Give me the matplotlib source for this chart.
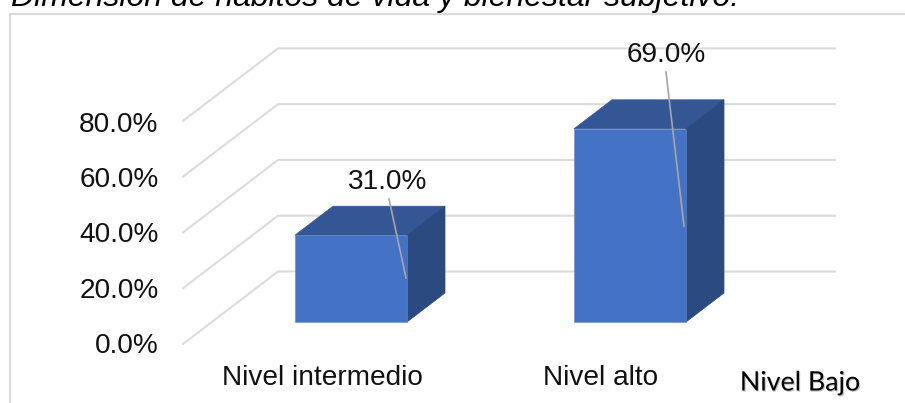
import matplotlib
matplotlib.use('Agg')
import matplotlib.pyplot as plt
import matplotlib.patheffects as pe
from matplotlib.patches import Polygon

categories = ['Nivel intermedio', 'Nivel alto']
values = [31.0, 69.0]
ticks = [0, 20, 40, 60, 80]
tick_labels = ['0.0%', '20.0%', '40.0%', '60.0%', '80.0%']
extra_label = 'Nivel Bajo'
title = 'Dimensión de hábitos de vida y bienestar subjetivo.'

W, H = 905, 403
PX_X = 279.0   # px per category
PX_Y = 2.8     # px per percent
X0, Y0 = 351.0, 322.0  # px of first bar centre / bar base


def sx(px):
    return px / PX_X


def sy(px):
    return px / PX_Y


plt.rcParams['font.family'] = ['Liberation Sans', 'DejaVu Sans']
fig = plt.figure(figsize=(W / 100, H / 100), dpi=100)
ax = fig.add_axes([0, 0, 1, 1])
ax.set_xlim(-X0 / PX_X, (W - X0) / PX_X)
ax.set_ylim(-(H - Y0) / PX_Y, Y0 / PX_Y)
ax.axis('off')

# frame of the chart, runs off the picture right and bottom
ax.plot([sx(9.5 - X0), sx(9.5 - X0), sx(W + 5 - X0)],
        [-(H + 5 - Y0) / PX_Y, sy(Y0 - 14), sy(Y0 - 14)],
        color='#d9d9d9', lw=1.5, zorder=1, solid_capstyle='butt')

# gridlines: front edge, back edge, then along the back wall
front_x, back_x, end_x = sx(183 - X0), sx(278 - X0), sx(835 - X0)
floor_front, floor_back = sy(22), sy(50.5)
for t in ticks:
    ax.plot([front_x, back_x, end_x],
            [t * 0.996 - floor_front, t * 0.996 + floor_back, t * 0.996 + floor_back],
            color='#dcdcdc', lw=1.5, zorder=2, solid_joinstyle='miter')

# 3d bars
half = sx(56)
dx, dy = sx(38), sy(29)
for i, v in enumerate(values):
    l, r = i - half, i + half
    ax.add_patch(Polygon([(l, v), (l + dx, v + dy), (r + dx, v + dy), (r, v)],
                         facecolor='#345695', edgecolor='#345695', lw=0.5, zorder=3))
    ax.add_patch(Polygon([(r, 0), (r + dx, dy), (r + dx, v + dy), (r, v)],
                         facecolor='#2b4a80', edgecolor='#2b4a80', lw=0.5, zorder=3))
    ax.bar(i, v, width=2 * half, color='#4472c4', edgecolor='#5f86cc', lw=0.4, zorder=4)

# data labels with their leader lines
label_pos = [(388, 182), (666, 55)]
leader_top = [(389, 199), (666, 72)]
leader_end = [(406, 278), (684, 226)]
for v, p, a, b in zip(values, label_pos, leader_top, leader_end):
    ax.text(sx(p[0] - X0), sy(Y0 - p[1]), '%.1f%%' % v, fontsize=20.2,
            ha='center', va='center', color='#111111', zorder=6)
    ax.plot([sx(a[0] - X0), sx(b[0] - X0)], [sy(Y0 - a[1]), sy(Y0 - b[1])],
            color='#a6a6a6', lw=1.2, zorder=5)

# value axis labels, a bit tighter than the grid in the original
for t, lab in zip(ticks, tick_labels):
    ax.text(sx(158.5 - X0), t * 0.987 - sy(24), lab, fontsize=20.2,
            ha='right', va='center', color='#111111')

# category labels
for i, c in enumerate(categories):
    ax.text(i + sx(322 - 351), sy(Y0 - 378), c, fontsize=20.2,
            ha='center', va='center', color='#111111')

ax.text(sx(800 - X0), sy(Y0 - 383), extra_label, fontsize=19.3, family=['Lato', 'DejaVu Sans'],
        ha='center', va='center', color='black',
        path_effects=[pe.withSimplePatchShadow(offset=(0.8, -0.8), shadow_rgbFace='#888888', alpha=0.5)])

ax.text(sx(11 - X0), sy(Y0 - 6), title, fontsize=23, style='italic',
        ha='left', va='baseline', color='black')

fig.savefig('out.png', dpi=100)
